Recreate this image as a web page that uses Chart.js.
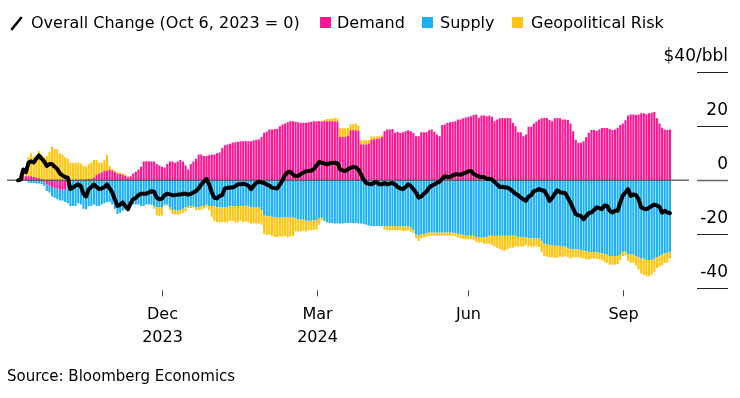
<!DOCTYPE html>
<html>
<head>
<meta charset="utf-8">
<script src="https://cdn.jsdelivr.net/npm/chart.js@4.4.1/dist/chart.umd.min.js"></script>
<style>
  html, body { margin: 0; padding: 0; background: #fff; }
  #wrap { position: relative; width: 740px; height: 398px; font-family: "DejaVu Sans", sans-serif; color: #000; }
  #c { position: absolute; left: 0; top: 0; }
  .lt { position: absolute; top: 14px; font-size: 16px; line-height: 18px; white-space: nowrap; }
  .sq { position: absolute; top: 17px; width: 11px; height: 11px; }
  .slash { position: absolute; left: 10px; top: 16px; }
  .src { position: absolute; left: 7px; top: 368px; font-size: 15px; line-height: 17px; white-space: nowrap; }
</style>
</head>
<body>
<div id="wrap">
  <canvas id="c" width="740" height="398"></canvas>
  <svg class="slash" width="14" height="15"><line x1="2" y1="13" x2="11" y2="2" stroke="#000" stroke-width="2.6" stroke-linecap="round"/></svg>
  <span class="lt" style="left:31px">Overall Change (Oct 6, 2023 = 0)</span>
  <span class="sq" style="left:320px;background:#ff1493"></span>
  <span class="lt" style="left:337px">Demand</span>
  <span class="sq" style="left:422px;background:#1cb0f6"></span>
  <span class="lt" style="left:440px">Supply</span>
  <span class="sq" style="left:512px;background:#ffc40c"></span>
  <span class="lt" style="left:531px">Geopolitical Risk</span>
  <div class="src">Source: Bloomberg Economics</div>
</div>
<script>
// $/bbl contributions, one value per trading day
var demand = [
  0.3, 1, 1.5, 1.5, 1.5, 1.5, 1.2, 1, 0.8, 0.5,
  -0.5, -1.5, -2, -2.5, -3, -3, -3.5, -3.5, -3.5, -2,
  -0.5, 0, 0.2, 0.2, 0.2, 0.3, 0.3, 0.5, 0.5, 1,
  2, 2.5, 3, 3.5, 3.5, 4, 3.5, 3, 2.5, 2.3,
  2, 1.7, 1, 1.5, 2.5, 3.2, 4, 5, 7, 7.1,
  7.1, 7, 7, 6, 5.5, 5, 4.7, 6, 7, 7,
  6.5, 7, 7.5, 7, 5.5, 4, 6, 7, 8, 9.5,
  9.6, 9, 9, 9.3, 9.6, 9.6, 10, 10.3, 12, 13,
  13.3, 13.5, 14, 14.1, 14.3, 14.5, 14.5, 14.5, 14.5, 14.5,
  14.8, 15, 15.1, 16, 17.6, 18, 18.8, 18.8, 19, 19.1,
  20, 20.7, 21, 21.5, 21.9, 21.9, 21.7, 21.5, 21.3, 21.3,
  21.3, 21.5, 21.7, 21.9, 21.9, 21.9, 21.9, 21.9, 21.9, 22,
  21.9, 21.9, 21.7, 16, 16, 16, 16.5, 18.5, 18.5, 18.5,
  18.3, 13.3, 13.3, 13.3, 13.6, 15, 15.2, 15.3, 15.5, 16,
  18.2, 18.8, 18.8, 19, 17.6, 18, 17.5, 17.8, 18.2, 18.5,
  18.2, 17.5, 16.3, 16.3, 17.8, 17.8, 17.8, 18.5, 18.8, 18,
  17, 16.3, 20.5, 20.7, 21.3, 21.5, 21.6, 21.9, 22.5, 22.5,
  23, 23.3, 23.5, 23.7, 24.2, 24.4, 23.2, 24, 24, 23.7,
  24, 23.5, 21.9, 22.5, 23, 23.1, 23, 23.1, 23, 21.3,
  20, 17.8, 17.8, 16.3, 17, 19.8, 19.8, 21, 21.8, 22.5,
  23, 23.1, 23.1, 22.3, 21.9, 23, 23.1, 23, 22.5, 22.5,
  22.3, 21, 18.2, 15, 13.9, 13.9, 14.5, 16, 17.6, 18.6,
  18.6, 18.3, 18.8, 19.4, 19.4, 19.4, 19, 18.6, 18.8, 19.5,
  20.5, 21, 22.2, 24, 24.4, 24.4, 24.2, 24.4, 24.8, 24.8,
  24.5, 24.8, 25, 25.3, 23, 21, 19.5, 18.8, 18.6, 18.8
];
var supply = [
  0, 0, 0, -0.3, -0.8, -1, -1, -1.2, -1.2, -1.5,
  -1.5, -2.5, -2.5, -3.5, -3.5, -4, -4, -4, -4.5, -6.5,
  -9, -9.5, -9.5, -8.5, -9, -10.5, -10.7, -9.5, -9.5, -9,
  -9.5, -9.5, -9, -8.5, -8, -8, -9, -10.5, -12.5, -12,
  -11.3, -10.7, -10.5, -9.5, -9, -9, -9, -9.5, -9.5, -9,
  -9, -9, -9.5, -10, -10, -10, -9, -9, -10, -11,
  -11, -11.3, -11, -10.5, -10, -9.5, -9.5, -9.6, -10, -10,
  -9.5, -9.5, -9, -9.5, -9.5, -9.5, -10, -10, -10, -10,
  -10, -9.5, -9.5, -9.5, -9.5, -9.5, -9.5, -9.3, -9.5, -10,
  -10, -10, -10, -11, -13, -13.2, -13.2, -13.5, -13.7, -13.8,
  -13.8, -13.7, -13.7, -13.7, -13.8, -13.8, -14, -14.5, -14.5, -14.5,
  -15, -15, -15, -14.8, -14.8, -14, -13.8, -15, -15.5, -15.8,
  -15.8, -16, -16, -16, -16, -15.8, -15.8, -15.8, -15.8, -15.8,
  -16, -16, -16.2, -16.5, -16.7, -16.9, -16.9, -16.9, -16.9, -17,
  -17, -17, -17, -16.9, -16.9, -17, -17, -17, -17, -17,
  -17.5, -18.5, -20, -20.5, -20, -19.9, -19.5, -19.3, -19.3, -19.3,
  -19.3, -19.3, -19.3, -19.3, -19.3, -19.3, -19.3, -19.5, -19.8, -20,
  -20.2, -20.3, -20.5, -20.5, -20.5, -21, -21, -21, -21, -21,
  -20.5, -20.5, -20.5, -20.5, -20.5, -20.5, -20.5, -20.5, -20.5, -20.5,
  -20.5, -21, -21, -21, -21, -21.5, -21.5, -21.5, -21.5, -21.5,
  -22.5, -23.5, -23.8, -24, -24, -24.2, -24.2, -24.2, -24.5, -24.5,
  -25, -25.5, -25.5, -25.5, -25.5, -25.8, -26, -26.3, -26.5, -26.6,
  -26.6, -26.6, -26.8, -27, -27.3, -27.5, -28, -28, -28, -28,
  -27.5, -26.5, -26.5, -27.3, -27.5, -27.5, -28, -28.5, -29, -29,
  -29.5, -29.5, -29.5, -29, -28.5, -28, -27.5, -27, -27, -26.5
];
var geoRisk = [
  0, 0.3, 2.5, 1.8, 7, 8.5, 7.5, 8.5, 10, 9,
  8.5, 9, 10.5, 12.5, 11.5, 11.5, 10, 9.5, 8.5, 8,
  6.5, 6.3, 6.3, 6.3, 6, 5, 4.8, 5.5, 6, 6.5,
  5.5, 4, 3.5, 4, 6, 1.3, 0.8, 0.5, 0.5, 0.5,
  0.5, 0.5, 0.5, 0, 0, 0, 0, 0, 0, 0,
  0, -0.3, -1, -3, -3.2, -3, -0.5, -0.3, -1, -1.5,
  -1.7, -1.5, -1.5, -1.5, -1.5, -0.8, -0.8, -0.5, -1, -1,
  -1.3, -1, -0.8, -1.5, -4, -5.5, -5.5, -5.5, -5.5, -5.5,
  -5.5, -5.5, -5.5, -6, -6, -5.5, -6, -6, -6, -6,
  -6, -6, -6, -5.5, -7, -7, -7, -7, -7.3, -7.2,
  -7, -7.3, -7, -7.3, -7, -6.8, -5, -4.5, -4.5, -4.2,
  -4, -3.5, -3.5, -3.5, -3.5, -2.5, -1, 0.4, 0.8, 0.8,
  1, 1.2, 1.2, 3.3, 3.3, 3.3, 3, 2.3, 2.3, 2.5,
  2, 1.5, 1.5, 1.5, 1.3, 1.2, 1, 1, 0.8, 0.6,
  -1.2, -1.5, -1.5, -1.6, -1.6, -1.5, -1.5, -1.8, -1.8, -1.5,
  -1.5, -1, -1.5, -2, -1.5, -1.3, -1.5, -1.3, -1.2, -1.2,
  -1.2, -1.2, -1.2, -1.2, -1.2, -1.2, -1.2, -1.2, -1.5, -1.5,
  -1.5, -1.5, -1.3, -1.3, -1.5, -1.8, -2, -2, -2.5, -2.5,
  -3, -3.5, -4, -4.5, -5, -5.5, -5.5, -5, -4.5, -4.5,
  -4, -3.5, -3.5, -3.5, -3, -3, -3, -3, -3, -3.2,
  -4, -4.5, -4.5, -4.5, -4.5, -4.5, -4.5, -4, -4, -3.5,
  -3.5, -3.5, -3, -3, -3, -3, -3, -3, -2.8, -2.5,
  -2.5, -2.5, -2.5, -2.5, -3, -3, -3.3, -3.3, -3.3, -3,
  -2, -1.5, -1.3, -2.5, -3, -3, -3.5, -4.5, -5.5, -6,
  -6, -6, -5.5, -5, -4, -4, -4, -3.5, -3.5, -2.5
];
var overall = [
  0, 0.3, 4, 3, 6.5, 7, 6.6, 8, 9.2, 8,
  7, 5.3, 6, 6, 5, 4.2, 2.5, 1.8, 1.2, 1,
  -3.2, -2.7, -2, -1.5, -2.2, -5, -6, -3.3, -2.5, -1.5,
  -2.5, -3.3, -3, -2.5, -1.5, -3, -4.5, -7, -9.5, -9,
  -8.2, -9.5, -10.7, -8.5, -7, -6.5, -5.5, -5, -5, -5,
  -4.5, -4, -4.3, -6.4, -7, -6.8, -5.5, -5, -5.2, -5.5,
  -5.5, -5.3, -5.3, -5, -5, -5.3, -5, -4.5, -4, -3,
  -1.5, -0.5, 0.5, -1.5, -4.5, -6.5, -6.7, -5.8, -5.5, -3,
  -2.8, -2.7, -2.7, -2.2, -1.5, -1.5, -1.3, -1.5, -2, -3.3,
  -2, -1, -0.5, -0.8, -1, -1.5, -2, -2.7, -2.9, -3,
  -1.5, 0, 2, 3, 3.2, 2.2, 1.5, 1.7, 2.3, 2.8,
  3.3, 3.5, 3.5, 4.2, 5.5, 6.8, 6.5, 6.3, 5.9, 6.3,
  6.5, 6.5, 6.3, 4.1, 3.7, 3.4, 4.1, 4.6, 5, 4.8,
  4, 2.2, 0.2, -1, -1.3, -1.5, -0.9, -0.7, -1.5, -1.5,
  -1, -1.5, -1.2, -1, -1.5, -2.5, -3, -3.3, -2.5, -1.5,
  -2.1, -3.3, -4.5, -6.4, -6, -5, -4.2, -2.7, -2, -1.5,
  -1, -0.5, 0.5, 1.5, 1.2, 1.2, 1.8, 2.2, 2.2, 2,
  2.5, 2.8, 3.3, 3.5, 2.3, 1.8, 1.4, 1.2, 1.2, 0.5,
  0.6, 0.3, -0.6, -1.5, -2.5, -2.4, -2.7, -2.7, -3.3, -4.1,
  -5, -5.5, -6.4, -7, -7.6, -6, -5.5, -4, -3.7, -3.3,
  -3.7, -3.9, -5.5, -7.6, -6.5, -5, -3.7, -4.4, -4.6, -4.8,
  -6.5, -8.2, -10.5, -12.5, -13, -13.2, -14.4, -13.2, -12.2, -11.9,
  -11, -10, -10.3, -10.7, -9.3, -9.5, -11.3, -11.9, -11.3, -11.3,
  -8.2, -5.6, -4.5, -3.3, -5.8, -5.2, -5.5, -7, -10, -10.5,
  -10.7, -10.2, -9.5, -9, -9.3, -9.8, -12, -11.3, -11.9, -12.2
];
var days = demand.map(function (v, i) { return i; });

var tickIndex = [55, 114, 172, 231];
var tickMonth = ["Dec", "Mar", "Jun", "Sep"];
var tickYear = ["2023", "2024", "", ""];
var yTicks = [40, 20, 0, -20, -40];
var yTickText = ["$40/bbl", "20", "0", "-20", "-40"];

var PINK = "#ff1493", BLUE = "#1cb0f6", YELLOW = "#ffc40c";

var frame = {
  id: "frame",
  beforeDatasetDraw: function (chart, args) {
    if (args.meta.type !== "line") return;
    var ctx = chart.ctx;
    var y = chart.scales.y.getPixelForValue(0);
    ctx.save();
    ctx.strokeStyle = "rgba(85,85,85,0.85)";
    ctx.lineWidth = 1.5;
    ctx.beginPath();
    ctx.moveTo(7, y);
    ctx.lineTo(689, y);
    ctx.stroke();
    ctx.restore();
  },
  afterDraw: function (chart) {
    var ctx = chart.ctx, ys = chart.scales.y, xs = chart.scales.x;
    var bottom = chart.chartArea.bottom;
    ctx.save();
    ctx.fillStyle = "#000";
    ctx.font = '17px "DejaVu Sans"';
    ctx.textAlign = "right";
    yTicks.forEach(function (v, k) {
      var py = Math.round(ys.getPixelForValue(v));
      ctx.strokeStyle = v === 0 ? "#666" : "#222";
      ctx.lineWidth = v === 0 ? 1.5 : 1;
      ctx.beginPath();
      ctx.moveTo(697, py + 0.5);
      ctx.lineTo(728, py + 0.5);
      ctx.stroke();
      ctx.fillText(yTickText[k], 728, py - 11);
    });
    ctx.font = '16px "DejaVu Sans"';
    ctx.textAlign = "center";
    ctx.strokeStyle = "#444";
    ctx.lineWidth = 1;
    tickIndex.forEach(function (ix, k) {
      var px = Math.round(xs.getPixelForValue(ix)) + 0.5;
      ctx.beginPath();
      ctx.moveTo(px, bottom + 2);
      ctx.lineTo(px, bottom + 8);
      ctx.stroke();
      ctx.fillText(tickMonth[k], px, 319);
      if (tickYear[k]) ctx.fillText(tickYear[k], px, 342);
    });
    ctx.restore();
  }
};

new Chart(document.getElementById("c"), {
  data: {
    labels: days,
    datasets: [
      { type: "bar", label: "Demand", data: demand, backgroundColor: PINK, order: 1 },
      { type: "bar", label: "Supply", data: supply, backgroundColor: BLUE, order: 1 },
      { type: "bar", label: "Geopolitical Risk", data: geoRisk, backgroundColor: YELLOW, order: 1 },
      {
        type: "line",
        label: "Overall Change",
        data: overall,
        stack: "overall",
        borderColor: "#000",
        borderWidth: 4,
        pointRadius: 0,
        tension: 0,
        borderJoinStyle: "round",
        borderCapStyle: "round",
        order: 0
      }
    ]
  },
  options: {
    responsive: false,
    devicePixelRatio: 1,
    animation: false,
    layout: { padding: { left: 16.7, right: 68.7, top: 72.3, bottom: 109.7 } },
    datasets: { bar: { barPercentage: 0.8, categoryPercentage: 1 } },
    plugins: { legend: { display: false }, tooltip: { enabled: false } },
    scales: {
      x: { type: "category", stacked: true, display: false, offset: true },
      y: { stacked: true, min: -40, max: 40, display: false }
    }
  },
  plugins: [frame]
});
</script>
</body>
</html>
